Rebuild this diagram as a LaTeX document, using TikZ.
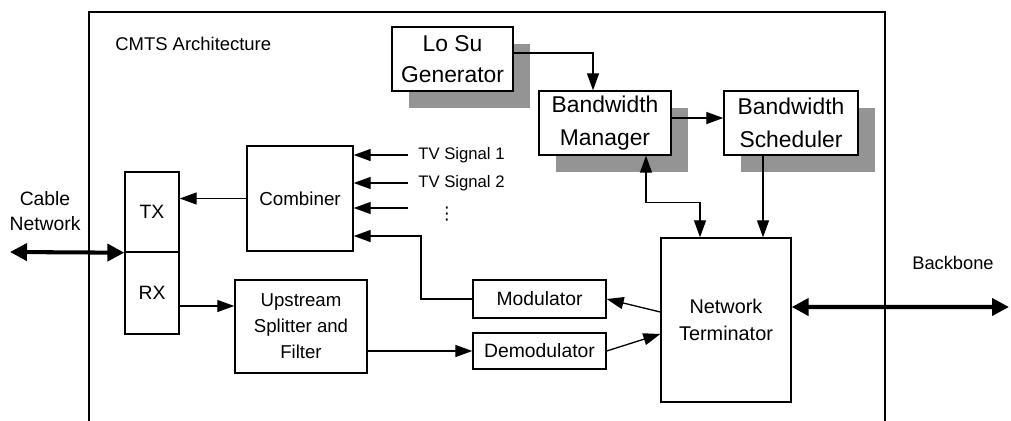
\documentclass[tikz,border=0pt]{standalone}
\usepackage{fontspec}
\setmainfont{Liberation Sans}
\newfontfamily\symfont{DejaVu Sans}
\usetikzlibrary{arrows.meta, shadows}

\begin{document}
\begin{tikzpicture}[x=0.02cm, y=-0.02cm,
    box/.style={draw, line width=0.8pt, fill=white, inner sep=0pt, align=center},
    shadowbox/.style={box, drop shadow={shadow xshift=0.34cm, shadow yshift=-0.34cm, fill=black!42, opacity=1}},
    lbl/.style={inner sep=0pt, align=center},
    arr/.style={line width=0.75pt, -{Triangle[length=0.34cm, width=0.24cm]}},
    dblarr/.style={line width=0.75pt, {Triangle[length=0.34cm, width=0.24cm]}-{Triangle[length=0.34cm, width=0.24cm]}},
    bigarr/.style={line width=2.3pt, {Triangle[length=0.34cm, width=0.34cm]}-{Triangle[length=0.34cm, width=0.34cm]}}]
    \useasboundingbox (0,0) rectangle (1011,420);
    % CMTS frame and title
    \draw[line width=0.8pt] (89,12) rectangle (885,440);
    \node[lbl, anchor=west, font=\fontsize{10.5}{13}\selectfont] (title) at (115,44) {CMTS Architecture};
    % Shadowed control blocks
    \node[shadowbox, minimum width=2.42cm, minimum height=1.28cm, font=\fontsize{13}{17.6}\selectfont] (losu) at (452.5,59) {Lo Su\\Generator};
    \node[shadowbox, minimum width=2.64cm, minimum height=1.28cm, font=\fontsize{13}{18.5}\selectfont] (manager) at (605,123) {Bandwidth\\Manager};
    \node[shadowbox, minimum width=2.68cm, minimum height=1.28cm, font=\fontsize{13}{18.5}\selectfont] (scheduler) at (791,123) {Bandwidth\\Scheduler};
    % Data path blocks
    \node[box, minimum width=2.12cm, minimum height=2.1cm, font=\fontsize{10.7}{13}\selectfont] (combiner) at (300,198.5) {Combiner};
    \node[box, minimum width=1.08cm, minimum height=1.6cm, font=\fontsize{11}{13}\selectfont] (tx) at (152,212) {TX};
    \node[box, minimum width=1.08cm, minimum height=1.64cm, font=\fontsize{11}{13}\selectfont] (rx) at (152,293) {RX};
    \node[box, minimum width=2.64cm, minimum height=1.86cm, font=\fontsize{10.6}{14.8}\selectfont] (upstream) at (301,326.5) {Upstream\\Splitter and\\Filter};
    \node[box, minimum width=2.66cm, minimum height=0.76cm, font=\fontsize{11}{13}\selectfont] (modulator) at (539.5,299) {Modulator};
    \node[box, minimum width=2.66cm, minimum height=0.72cm, font=\fontsize{11}{13}\selectfont] (demod) at (539.5,351) {Demodulator};
    \node[box, minimum width=2.6cm, minimum height=3.28cm, font=\fontsize{11.3}{15.7}\selectfont] (nt) at (726,320) {Network\\Terminator};
    % Control connections
    \draw[arr] ([yshift=0.12cm]losu.east) -| ([xshift=-0.24cm]manager.north);
    \draw[arr] ([yshift=0.1cm]manager.east) -- ([yshift=0.1cm]scheduler.west);
    \draw[dblarr] ([xshift=0.82cm]manager.south) -- ++(0,-0.94cm) -| ([xshift=-0.52cm]nt.north);
    \draw[arr] ([xshift=-0.56cm]scheduler.south) -- ([xshift=-0.56cm]scheduler.south |- nt.north);
    % TV signal inputs
    \coordinate (tv1) at (408,155);
    \coordinate (tv2) at (408,183);
    \coordinate (tv3) at (408,208);
    \node[lbl, anchor=west, font=\fontsize{9.5}{11}\selectfont] (tvlabel1) at (418,155) {TV Signal 1};
    \node[lbl, anchor=west, font=\fontsize{9.5}{11}\selectfont] (tvlabel2) at (418,183) {TV Signal 2};
    \node[lbl, font=\symfont\fontsize{10}{11}\selectfont] (tvdots) at (447,214) {⋮};
    \foreach \s in {tv1, tv2, tv3}
        \draw[arr] (\s) -- (\s -| combiner.east);
    % Downstream and upstream paths
    \coordinate (modbend) at (421,236);
    \draw[arr] (modulator.west) -| (modbend) -- (modbend -| combiner.east);
    \draw[arr] (combiner.west) -- (combiner.west -| tx.east);
    \draw[arr] ([yshift=-0.26cm]rx.east) -- ([yshift=-0.26cm]rx.east -| upstream.west);
    \draw[arr] (upstream.east |- demod.west) -- (demod.west);
    \draw[arr] ([yshift=0.16cm]nt.west) -- (modulator.east);
    \draw[arr] (demod.east) -- ([yshift=-0.28cm]nt.west);
    % Cable network and backbone links
    \coordinate (cableend) at (10,252);
    \coordinate (backend) at (1009,307);
    \draw[bigarr] (cableend) -- (tx.south west);
    \draw[bigarr] ([yshift=0.26cm]nt.east) -- (backend);
    \node[lbl, font=\fontsize{11}{14.7}\selectfont] (cablelabel) at (45,211) {Cable\\Network};
    \node[lbl, font=\fontsize{10.4}{13}\selectfont] (backlabel) at (953,263) {Backbone};
\end{tikzpicture}
\end{document}
